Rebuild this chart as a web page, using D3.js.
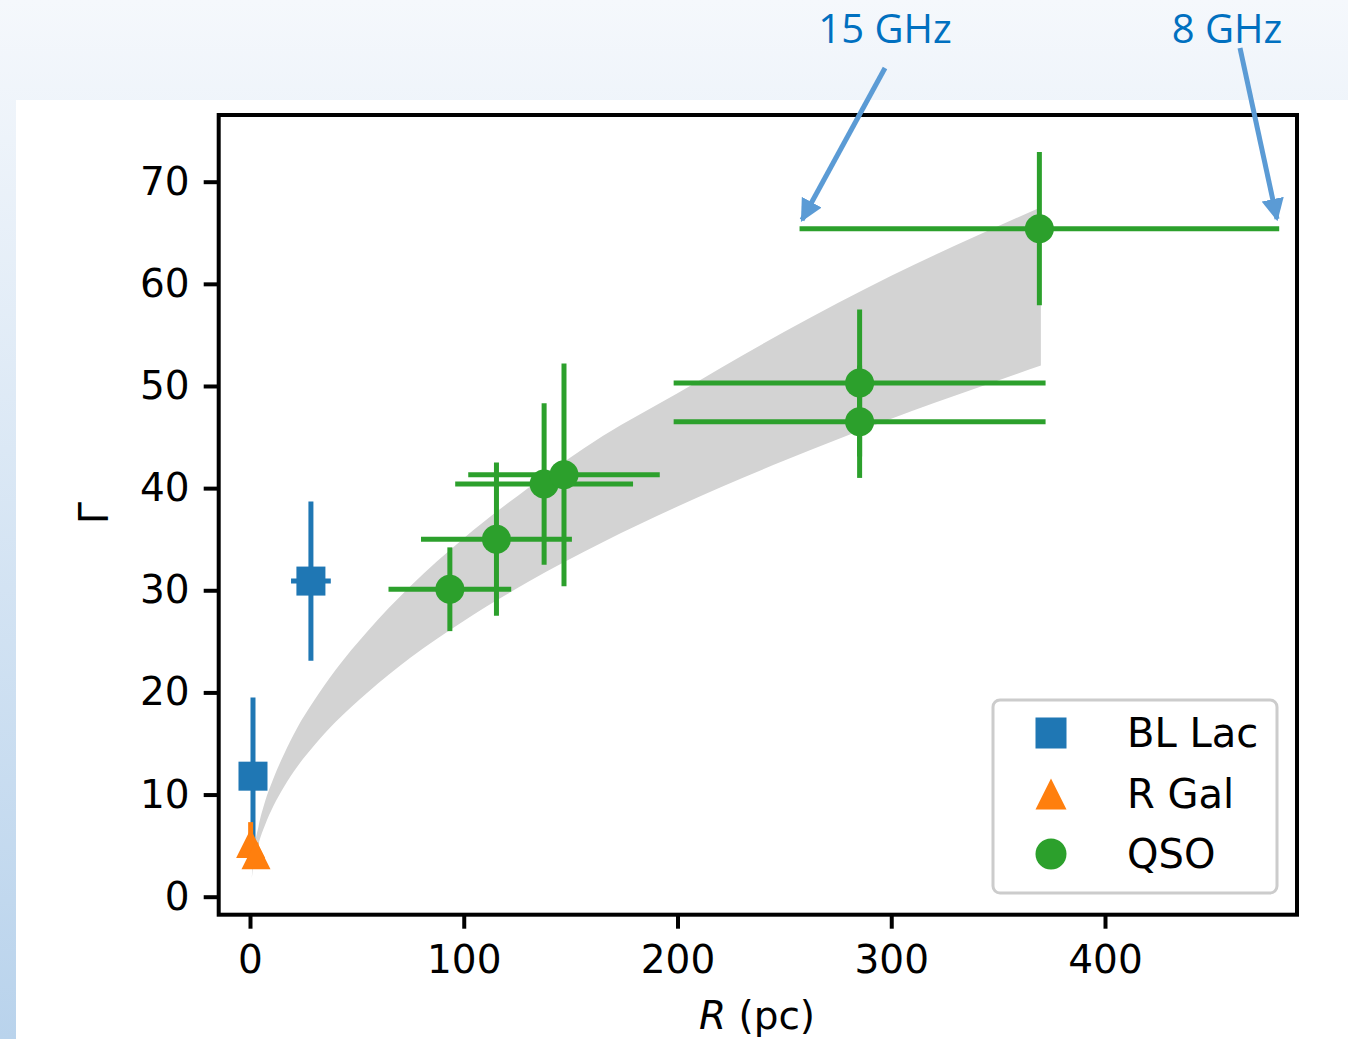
<!DOCTYPE html>
<html><head><meta charset="utf-8">
<script src="https://cdn.jsdelivr.net/npm/d3@7"></script>
<style>html,body{margin:0;padding:0;overflow:hidden;background:#fff}</style>
</head><body>
<svg id="c" width="1348" height="1039"></svg>
<script>
// ---- data ----
const blLacR   = [1.4, 28.5];
const blLacG   = [11.8, 30.9];
const blLacRe  = [0, 9.3];
const blLacGe  = [7.7, 7.8];

const rGalR  = [0.3, 2.8];
const rGalG  = [5.2, 4.1];
const rGalRe = [0, 0];
const rGalGe = [2.1, 1.2];

const qsoR  = [93.5, 115.3, 137.6, 146.9, 285.2, 285.2, 369.3];
const qsoG  = [30.1, 35.0, 40.4, 41.3, 50.3, 46.5, 65.4];
const qsoRe = [28.7, 35.3, 41.6, 44.8, 87.0, 87.0, 112.2];
const qsoGe = [4.1, 7.5, 7.9, 10.9, 7.2, 5.5, 7.5];

const bandR     = [0.8, 2, 4, 7, 11, 16, 22, 30, 40, 55, 75, 100, 130, 165, 200, 250, 300, 340, 370];
const bandUpper = [1.8, 4.6, 6.9, 9.3, 11.6, 14.0, 16.5, 19.2, 22.2, 26.0, 30.4, 35.1, 40.0, 45.1, 49.3, 55.3, 60.8, 64.7, 67.5];
const bandLower = [1.8, 3.4, 5.2, 7.0, 8.9, 10.8, 12.7, 14.8, 17.1, 20.0, 23.4, 27.0, 30.8, 34.7, 38.2, 42.7, 46.8, 49.8, 52.0];

const xTicks = [0, 100, 200, 300, 400];
const yTicks = [0, 10, 20, 30, 40, 50, 60, 70];
const legendLabels = ["BL Lac", "R Gal", "QSO"];
const annoLabels = ["15 GHz", "8 GHz"];

const colors = {blue:"#1f77b4", orange:"#ff7f0e", green:"#2ca02c"};

// ---- layout ----
const svg = d3.select("#c");
const defs = svg.append("defs");
const grad = defs.append("linearGradient").attr("id","bg").attr("x1",0).attr("y1",0).attr("x2",0).attr("y2",1);
grad.append("stop").attr("offset","0%").attr("stop-color","#f5f8fc");
grad.append("stop").attr("offset","100%").attr("stop-color","#b9d3ec");
svg.append("rect").attr("width",1348).attr("height",1039).attr("fill","url(#bg)");
svg.append("rect").attr("x",16).attr("y",100).attr("width",1332).attr("height",939).attr("fill","#fff");

const L = 218.7, R = 1297, T = 115, B = 914.7;
const x = d3.scaleLinear().domain([0, 400]).range([250, 1105]);
const y = d3.scaleLinear().domain([0, 70]).range([896.7, 181.7]);

const g = svg.append("g");

// band
const bandData = bandR.map((r,i)=>({r, lo:bandLower[i], hi:bandUpper[i]}));
g.append("path").datum(bandData)
  .attr("d", d3.area().x(d=>x(d.r)).y0(d=>y(d.lo)).y1(d=>y(d.hi)).curve(d3.curveMonotoneX))
  .attr("fill","#d3d3d3");

// error bars + markers
const ms = 29;
function series(Rs, Gs, Re, Ge, color, shape){
  const s = g.append("g");
  Rs.forEach((r,i)=>{
    if (Re[i] > 0) s.append("line").attr("x1",x(r-Re[i])).attr("x2",x(r+Re[i])).attr("y1",y(Gs[i])).attr("y2",y(Gs[i]))
      .attr("stroke",color).attr("stroke-width",5);
    if (Ge[i] > 0) s.append("line").attr("x1",x(r)).attr("x2",x(r)).attr("y1",y(Gs[i]-Ge[i])).attr("y2",y(Gs[i]+Ge[i]))
      .attr("stroke",color).attr("stroke-width",5);
  });
  Rs.forEach((r,i)=>{
    drawMarker(s, x(r), y(Gs[i]), shape, color, ms);
  });
}
function drawMarker(sel, cx, cy, shape, color, size){
  const h = size/2;
  if (shape==="square") sel.append("rect").attr("x",cx-h).attr("y",cy-h).attr("width",size).attr("height",size).attr("fill",color);
  else if (shape==="tri") sel.append("path").attr("d",`M${cx},${cy-h}L${cx-h},${cy+h}L${cx+h},${cy+h}Z`).attr("fill",color);
  else sel.append("circle").attr("cx",cx).attr("cy",cy).attr("r",h).attr("fill",color);
}
series(blLacR, blLacG, blLacRe, blLacGe, colors.blue, "square");
series(rGalR, rGalG, rGalRe, rGalGe, colors.orange, "tri");
series(qsoR, qsoG, qsoRe, qsoGe, colors.green, "circle");

// frame
svg.append("rect").attr("x",L).attr("y",T).attr("width",R-L).attr("height",B-T)
  .attr("fill","none").attr("stroke","#000").attr("stroke-width",4);

// axes
const font = "DejaVu Sans";
const xa = svg.append("g").attr("transform",`translate(0,${B})`)
  .call(d3.axisBottom(x).tickValues(xTicks).tickSize(14).tickPadding(10).tickFormat(d3.format("d")));
const ya = svg.append("g").attr("transform",`translate(${L},0)`)
  .call(d3.axisLeft(y).tickValues(yTicks).tickSize(15).tickPadding(14).tickFormat(d3.format("d")));
[xa, ya].forEach(a=>{
  a.select(".domain").remove();
  a.selectAll(".tick line").attr("stroke","#000").attr("stroke-width",4);
  a.selectAll(".tick text").attr("fill","#000").style("font-family",font).style("font-size","39px");
});
xa.selectAll(".tick text").attr("dy","0.88em");

// axis labels
svg.append("text").attr("transform","translate(108,513) rotate(-90)").attr("text-anchor","middle")
  .style("font-family",font).style("font-size","40px").text("Γ");
const xl = svg.append("text").attr("x",757).attr("y",1029).attr("text-anchor","middle")
  .style("font-family",font).style("font-size","39px");
xl.append("tspan").style("font-style","italic").text("R");
xl.append("tspan").text(" (pc)");

// legend
const lg = svg.append("g");
lg.append("rect").attr("x",993).attr("y",700).attr("width",284).attr("height",193).attr("rx",7)
  .attr("fill","#fff").attr("stroke","#cccccc").attr("stroke-width",3);
const legShapes = [["square",colors.blue],["tri",colors.orange],["circle",colors.green]];
const legY = [733, 794, 854];
legendLabels.forEach((t,i)=>{
  drawMarker(lg, 1051, legY[i], legShapes[i][0], legShapes[i][1], 31);
  lg.append("text").attr("x",1127).attr("y",legY[i]+14).style("font-family",font).style("font-size","40px").text(t);
});

// annotations
const annoColor = "#0070c0", arrowColor = "#5b9bd5";
defs.append("marker").attr("id","ah").attr("viewBox","0 0 10 10").attr("refX",9).attr("refY",5)
  .attr("markerWidth",4.5).attr("markerHeight",4.5).attr("orient","auto").attr("markerUnits","strokeWidth")
  .append("path").attr("d","M0,0L10,5L0,10Z").attr("fill",arrowColor);
const anno = [
  {t:annoLabels[0], tx:885, ty:43, x1:885, y1:68, x2:802, y2:220},
  {t:annoLabels[1], tx:1227, ty:43, x1:1240, y1:48, x2:1277, y2:219}
];
anno.forEach(a=>{
  svg.append("text").attr("x",a.tx).attr("y",a.ty).attr("text-anchor","middle")
    .style("font-family","Open Sans").style("font-size","40px").attr("fill",annoColor).text(a.t);
  svg.append("line").attr("x1",a.x1).attr("y1",a.y1).attr("x2",a.x2).attr("y2",a.y2)
    .attr("stroke",arrowColor).attr("stroke-width",5).attr("marker-end","url(#ah)");
});
</script>
</body></html>
